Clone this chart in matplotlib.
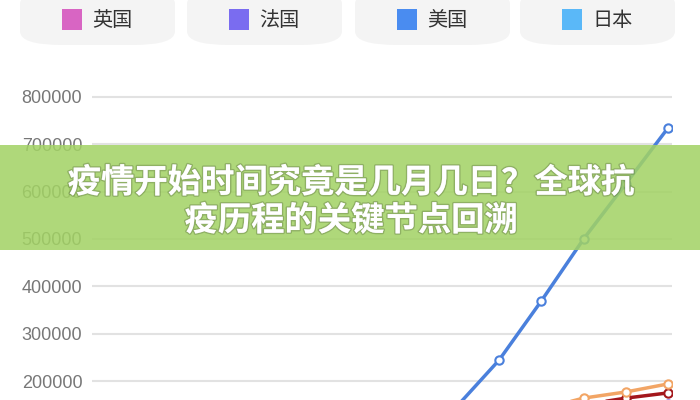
import matplotlib.pyplot as plt
import matplotlib.patches as mpatches
import matplotlib.patheffects as pe

plt.rcParams['font.family'] = ['Noto Sans CJK SC', 'DejaVu Sans']

# cumulative confirmed cases, one point per report (lower part is below the visible range)
us = [15000, 35000, 60000, 85000, 101000, 115000, 125000, 135000, 146000, 244000, 369000, 500000, 617000, 735000]
spain = [15000, 28000, 40000, 57000, 73000, 85000, 95000, 110000, 120000, 130000, 141000, 164000, 177000, 194000]
italy = [24000, 35000, 47000, 59000, 69000, 80000, 92000, 101000, 110000, 120000, 132000, 150000, 164000, 175000]
uk = [1500, 3000, 6000, 9500, 14500, 22000, 30000, 38000, 48000, 55000, 61000, 84000, 98000, 120000]
france = [6600, 12000, 16000, 25000, 33000, 40000, 52000, 57000, 65000, 70000, 83000, 98000, 117000, 152000]
japan = [800, 900, 1100, 1300, 1500, 1700, 1900, 2200, 2400, 2600, 3000, 4000, 6000, 11000]

legend_names = ['英国', '法国', '美国', '日本']
legend_colors = ['#d865c3', '#7a6cf0', '#4a8cf0', '#5ab8f8']
yticks = [200000, 300000, 400000, 500000, 600000, 700000, 800000]

fig = plt.figure(figsize=(7, 4), dpi=100)
fig.patch.set_facecolor('white')
ax = fig.add_axes([92 / 700, 0, 580 / 700, 340 / 400])

x = list(range(len(us)))
series = [
    (japan, '#5ab8f8'),
    (uk, '#d865c3'),
    (france, '#7a6cf0'),
    (italy, '#a3171c'),
    (spain, '#f2a565'),
    (us, '#4a80dc'),
]
for vals, col in series:
    ax.plot(x, vals, color=col, lw=2.5, marker='o', ms=6, mfc='white', mec=col, mew=1.5,
            clip_on=True, zorder=3)

ax.set_xlim(-0.62, 13.09)
ax.set_ylim(160000, 878000)
ax.set_yticks(yticks)
ax.set_yticklabels([str(v) for v in yticks], fontsize=13, color='#777777', family='Liberation Sans')
ax.set_xticks([])
ax.tick_params(axis='y', length=0, pad=7)
for s in ax.spines.values():
    s.set_visible(False)
ax.grid(axis='y', color='#e2e2e2', lw=1.5)
ax.set_axisbelow(True)

# legend pills
pill_x = [20, 187, 355, 520]
for px, name, col in zip(pill_x, legend_names, legend_colors):
    pill = mpatches.FancyBboxPatch((px / 700, 1 - 45 / 400), 155 / 700, 55 / 400,
                                   boxstyle='round,pad=0,rounding_size=0.06',
                                   transform=fig.transFigure, fc='#f4f4f4', ec='none',
                                   mutation_aspect=400 / 700)
    fig.add_artist(pill)
    sq = mpatches.Rectangle(((px + 42) / 700, 1 - 30 / 400), 20 / 700, 21 / 400,
                            transform=fig.transFigure, fc=col, ec='none')
    fig.add_artist(sq)
    fig.text((px + 72) / 700, 1 - 21 / 400, name, fontsize=14.5, color='#333333',
             va='center', ha='left')

# banner overlay
banner = mpatches.Rectangle((0, 150 / 400), 1, 105 / 400, transform=fig.transFigure,
                            fc='#a2d264', ec='none', alpha=0.86, zorder=5)
fig.add_artist(banner)
shadow = [pe.withStroke(linewidth=2, foreground=(0, 0, 0, 0.18))]
fig.text(0.502, 1 - 183 / 400, '疫情开始时间究竟是几月几日？全球抗', fontsize=24,
         fontweight='bold', color='white', ha='center', va='center', zorder=6,
         path_effects=shadow)
fig.text(0.502, 1 - 221 / 400, '疫历程的关键节点回溯', fontsize=24,
         fontweight='bold', color='white', ha='center', va='center', zorder=6,
         path_effects=shadow)

fig.savefig('out.png', dpi=100)
